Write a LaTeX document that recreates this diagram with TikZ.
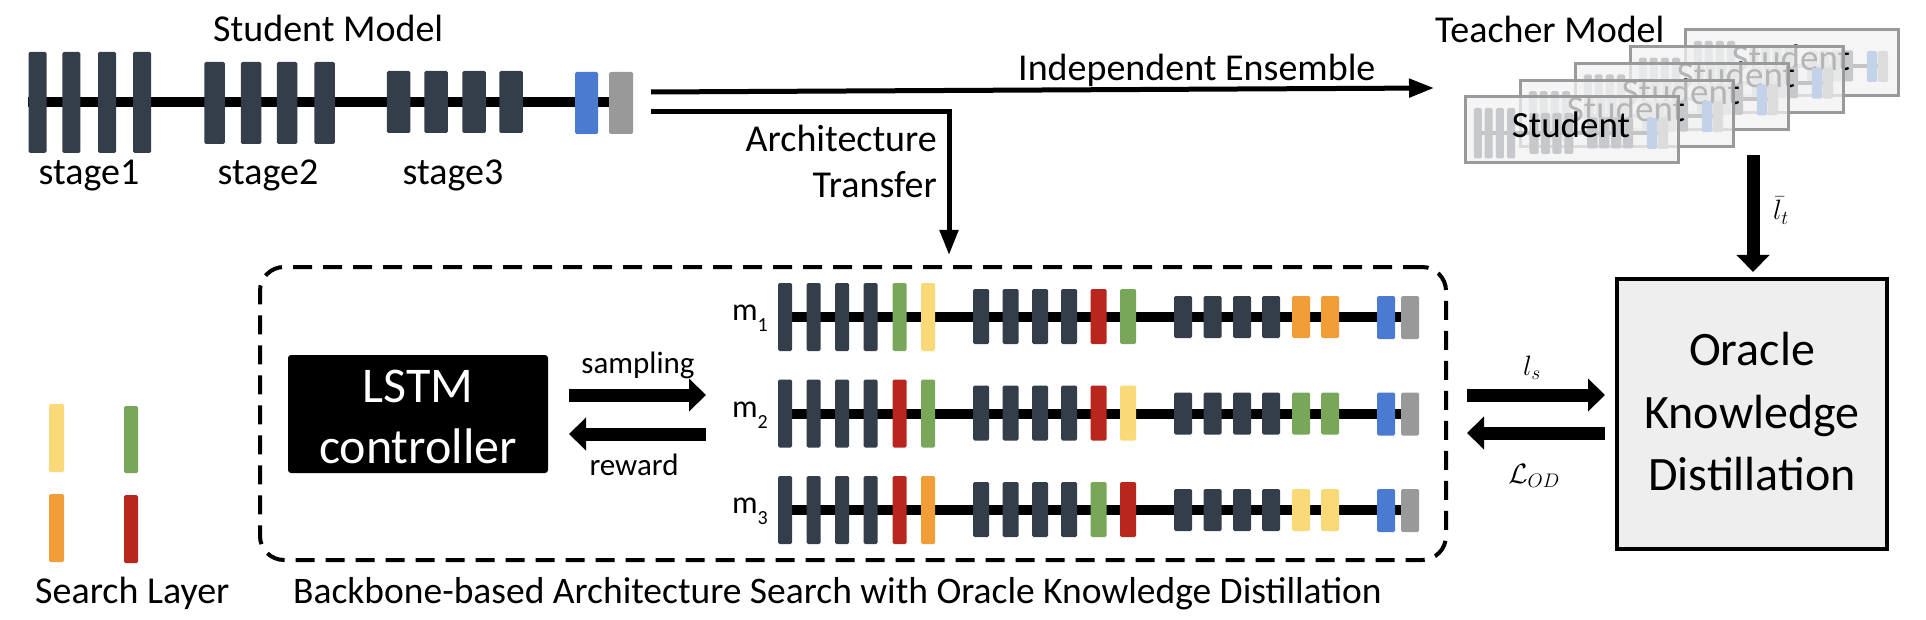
\RequirePackage{fix-cm}
\documentclass[tikz,border=0pt]{standalone}
\usepackage{fontspec}
\setmainfont{Carlito}
\usetikzlibrary{arrows.meta}
\definecolor{dk}{HTML}{343E4B}
\definecolor{sgreen}{HTML}{78A75A}
\definecolor{syellow}{HTML}{F9D978}
\definecolor{sred}{HTML}{B8261E}
\definecolor{sorange}{HTML}{F29E38}
\definecolor{sblue}{HTML}{4A7BD0}
\definecolor{sgray}{HTML}{999999}
\definecolor{okdfill}{HTML}{EEEEEE}
\definecolor{tbfill}{HTML}{F2F2F2}
\definecolor{tbborder}{HTML}{9A9A9A}
\definecolor{fdk}{HTML}{C6C8CC}
\definecolor{fbl}{HTML}{C3D2E8}
\definecolor{fgr}{HTML}{DCDCDC}
\definecolor{fln}{HTML}{C4C4C4}
\newcommand{\fsz}[2]{\fontsize{#1}{#2}\selectfont}
% student model: #1 dark #2 blue #3 gray #4 line colour #5 line width #6 width factor
\newcommand{\smodel}[6]{%
  \draw[line width=#5,#4] (28,102) -- (621,102);
  \foreach \xx in {37.5,71.3,107,142} \fill[#1,rounded corners=1.5] ({\xx-9*#6},52) rectangle ({\xx+9*#6},153);
  \foreach \xx in {214.5,251,287,324.5} \fill[#1,rounded corners=1.5] ({\xx-10.25*#6},62) rectangle ({\xx+10.25*#6},144);
  \foreach \xx in {398.5,436,474,511} \fill[#1,rounded corners=1.5] ({\xx-11.75*#6},71) rectangle ({\xx+11.75*#6},133);
  \fill[#2,rounded corners=1.5] ({586.5-11.5*#6},72) rectangle ({586.5+11.5*#6},134);
  \fill[#3,rounded corners=1.5] ({621-12*#6},72) rectangle ({621+12*#6},134);
}
% search row: #1 y, #2..#7 colours of search layers
\newcommand{\srow}[7]{%
  \draw[line width=10] (778,#1) -- (1410,#1);
  \foreach \xx in {785,813.5,842,870.5} \fill[dk,rounded corners=1.5] (\xx-7,#1-34) rectangle (\xx+7,#1+34);
  \fill[#2,rounded corners=1.5] (899.5-7,#1-34) rectangle (899.5+7,#1+34);
  \fill[#3,rounded corners=1.5] (928-7,#1-34) rectangle (928+7,#1+34);
  \foreach \xx in {981,1010.5,1040,1069} \fill[dk,rounded corners=1.5] (\xx-8,#1-28) rectangle (\xx+8,#1+27);
  \fill[#4,rounded corners=1.5] (1098.5-8,#1-28) rectangle (1098.5+8,#1+27);
  \fill[#5,rounded corners=1.5] (1128-8,#1-28) rectangle (1128+8,#1+27);
  \foreach \xx in {1183,1212.5,1242,1271} \fill[dk,rounded corners=1.5] (\xx-9,#1-21) rectangle (\xx+9,#1+21);
  \fill[#6,rounded corners=1.5] (1301-9,#1-21) rectangle (1301+9,#1+21);
  \fill[#7,rounded corners=1.5] (1330-9,#1-21) rectangle (1330+9,#1+21);
  \fill[sblue,rounded corners=1.5] (1386-9,#1-21) rectangle (1386+9,#1+22);
  \fill[sgray,rounded corners=1.5] (1410-9,#1-21) rectangle (1410+9,#1+22);
}
\begin{document}
\begin{tikzpicture}[x=1pt,y=-1pt,
  lbl/.style={inner sep=0pt,anchor=base,font=\fsz{38}{45}},
  small/.style={inner sep=0pt,anchor=base,font=\fsz{31}{37}},
  mlbl/.style={inner sep=0pt,anchor=base,font=\fsz{28}{32}},
  thin/.style={line width=5pt,-{Triangle[length=25pt,width=18pt]}},
  fat/.style={line width=13pt,-{Triangle[length=17pt,width=32pt]}},
  legbar/.style={rounded corners=1.5}]
\useasboundingbox (0,0) rectangle (1926,620);

% ---------- student model ----------
\smodel{dk}{sblue}{sgray}{black}{10}{1}
\node[lbl,anchor=base west] (smtitle) at (213,42) {Student Model};
\node[lbl] (st1) at (89,185) {stage1};
\node[lbl] (st2) at (268,185) {stage2};
\node[lbl] (st3) at (453,185) {stage3};

% ---------- connectors from student model ----------
\coordinate (ie0) at (651,92);
\coordinate (ie1) at (1434,88);
\coordinate (at0) at (651,112);
\coordinate (at1) at (949,255);
\draw[thin] (ie0) -- (ie1);
\draw[thin] (at0) -| (at1);
\node[lbl,anchor=base west] (ielbl) at (1018,81) {Independent Ensemble};
\node[lbl,anchor=base east] (atl1) at (937,152) {Architecture};
\node[lbl,anchor=base east] (atl2) at (937,198) {Transfer};

% ---------- teacher model ----------
\node[lbl,anchor=base west] (tmtitle) at (1435,43) {Teacher Model};
\foreach \k in {4,3,2,1,0} {
  \begin{scope}[shift={(55*\k,-16.75*\k)}]
    \fill[tbfill,fill opacity=0.75] (1465,97) rectangle (1678,163);
    \begin{scope}[shift={(1466,82)},xscale=0.317,yscale=0.5]
      \smodel{fdk}{fbl}{fgr}{fln}{4}{1.4}
    \end{scope}
    \node[inner sep=0pt,anchor=base,font=\fsz{37}{44}] (stud\k) at (1571,138) {Student};
    \draw[tbborder,line width=3pt] (1465,97) rectangle (1678,163);
  \end{scope}
}

% ---------- oracle KD ----------
\node[draw,line width=4.5pt,fill=okdfill,minimum width=270pt,minimum height=270pt,inner sep=0pt] (okd) at (1752,414) {};
\node[inner sep=0pt,anchor=base,font=\fsz{48}{58}] (okd1) at (1752,365) {Oracle};
\node[inner sep=0pt,anchor=base,font=\fsz{48}{58}] (okd2) at (1752,428) {Knowledge};
\node[inner sep=0pt,anchor=base,font=\fsz{48}{58}] (okd3) at (1752,490) {Distillation};
\coordinate (lt0) at (1753,155);
\coordinate (lt1) at (1753,272);
\draw[fat] (lt0) -- (lt1);
\node[mlbl] (ltl) at (1781,220) {$\bar{l}_t$};

% ---------- search box ----------
\node[draw,dashed,dash pattern=on 19pt off 11pt,line width=4pt,rounded corners=24pt,minimum width=1186pt,minimum height=293pt,inner sep=0pt] (search) at (853,413.5) {};
\node[fill=black,rounded corners=3pt,minimum width=260pt,minimum height=118pt,inner sep=0pt] (lstm) at (418,414) {};
\node[inner sep=0pt,anchor=base,text=white,font=\fsz{50}{58}] (lstm1) at (418,402) {LSTM};
\node[inner sep=0pt,anchor=base,text=white,font=\fsz{50}{58}] (lstm2) at (418,463) {controller};
\coordinate (sa0) at (569,395);
\coordinate (sa1) at (706,395);
\coordinate (rw0) at (706,434);
\coordinate (rw1) at (569,434);
\draw[fat] (sa0) -- (sa1);
\draw[fat] (rw0) -- (rw1);
\node[small] (samp) at (638,373) {sampling};
\node[small] (rew) at (634,475) {reward};

\srow{317}{sgreen}{syellow}{sred}{sgreen}{sorange}{sorange}
\srow{413.5}{sred}{sgreen}{sred}{syellow}{sgreen}{sgreen}
\srow{510}{sred}{sorange}{sgreen}{sred}{syellow}{syellow}
\node[inner sep=0pt,anchor=base east,font=\fsz{32}{38}] (m1) at (768,320) {m\raisebox{-11pt}{\fsz{20}{24}1}};
\node[inner sep=0pt,anchor=base east,font=\fsz{32}{38}] (m2) at (768,417) {m\raisebox{-11pt}{\fsz{20}{24}2}};
\node[inner sep=0pt,anchor=base east,font=\fsz{32}{38}] (m3) at (768,513) {m\raisebox{-11pt}{\fsz{20}{24}3}};

% ---------- loss arrows ----------
\coordinate (ls0) at (1467,395);
\coordinate (ls1) at (1605,395);
\coordinate (lo0) at (1605,433);
\coordinate (lo1) at (1467,433);
\draw[fat] (ls0) -- (ls1);
\draw[fat] (lo0) -- (lo1);
\node[mlbl] (lsl) at (1532,375) {$l_s$};
\node[mlbl] (lol) at (1534,483) {$\mathcal{L}_{OD}$};

% ---------- legend ----------
\fill[syellow,legbar] (49,404) rectangle (64,472);
\fill[sgreen,legbar] (124,406) rectangle (138,473);
\fill[sorange,legbar] (49,494) rectangle (64,562);
\fill[sred,legbar] (124,495) rectangle (138,563);
\node[lbl,anchor=base west] (leg) at (35,603) {Search Layer};
\node[lbl,anchor=base west,font=\fsz{37.5}{45}] (cap) at (293,603) {Backbone-based Architecture Search with Oracle Knowledge Distillation};
\end{tikzpicture}
\end{document}
